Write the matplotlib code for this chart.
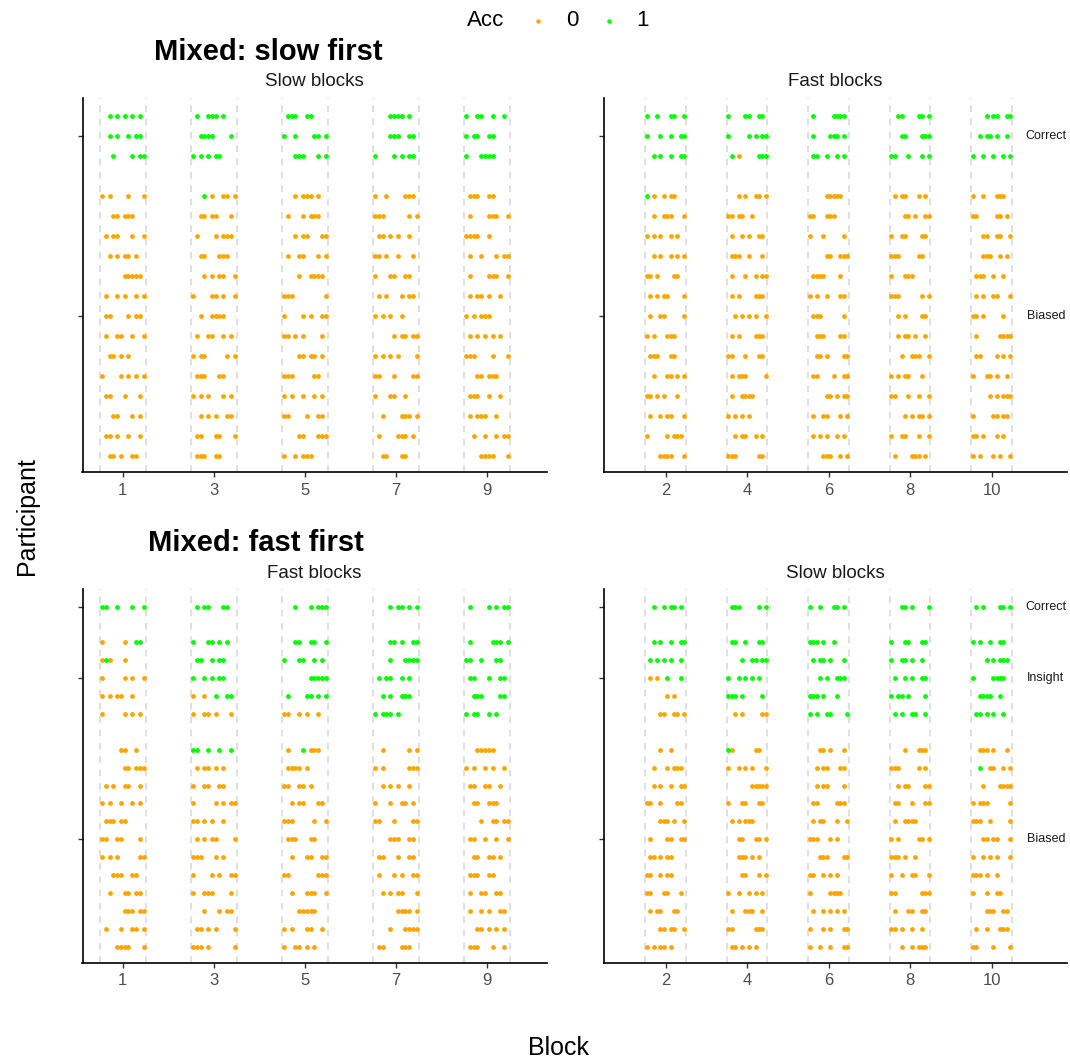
import matplotlib
matplotlib.use("Agg")
import matplotlib.pyplot as plt
from matplotlib.lines import Line2D

plt.rcParams['font.family'] = ['Liberation Sans', 'DejaVu Sans']

W, H, DPI = 1070, 1064, 100

# ---------------- data ----------------
acc_levels = ["0", "1"]
acc_colors = {"0": "#FFA500", "1": "#00FF00"}

blocks_odd = [1, 3, 5, 7, 9]
blocks_even = [2, 4, 6, 8, 10]
trials_per_block = 12

top_groups = ["Correct", "Biased"]
top_counts = [3, 14]
bottom_groups = ["Correct", "Insight", "Biased"]
bottom_counts = [1, 5, 12]

# each row: one 12-char string per block ('.' no trial shown, '0' Acc=0, '1' Acc=1)
slow_first_slow = [
    "..1.1.1.1.1. .1..111.1... .111..11.... ....1111.1.. 1..11..1..1.",
    "..1.1..1.11. ..1111....1. 1..1....11.1 ....111..11. 1.11..11....",
    "...1....1.11 1.1.1.11.... ...111...1.1 1....1.1.11. 1...1111....",
    "0.0....0...0 ...1.0..00.0 ...0.000.0.. 0..0....000. .000..00....",
    "...00.000... ..00.00...0. .0...0.000.. 000......0.0 .0....000..0",
    ".0.00...0..0 .0....0.000. ...0.00...00 .00.0.0..0.. 0000..0.....",
    "..0.0.00.0.. ..00...000.. .0..00...0.0 00.0..0...0. .0..0...0.00",
    "......00000. ...0.0.00..0 ....0..0000. 0...00..00.. .0....000..0",
    ".0..0.0..0.0 0....00.0..0 000........0 .0.0...0.00. .0.00.0..0..",
    ".00....0.00. ..0..0000... 0....0.0..00 0.0.0..0.... 0.0.000.....",
    ".0..00..0..0 .0..00..0.0. 00.0.0....0. .....0.00.00 .0.0.0.0.0..",
    "..00.0.0.... 0.00.....0.0 ....00.00.0. 0.0.0.0....0 000....0...0",
    "0....0.0.0.0 .000...00... 000.....00.. 00...0....00 ...00.000...",
    ".00...0...0. 0.0.0...0.0. 0.0..0..0.0. 0...00..0... .000..0..0..",
    "...00...0.0. ..0.0.0..00. 00....0..00. ..0....000.0 .0.000..0...",
    ".00.0..0..0. .00...00...0 ....00...000 .0....000.0. ..0..0..0.00",
    "..00.0..00.. .000..00.... 0..0.000.... ..00...00... ....0000...0",
]

slow_first_fast = [
    "1..1...11..1 1....11..11. .1.....1111. ..11....11.1 ....1.11..11",
    "1...1..1..11 1.....1.1.11 .1....111.1. ...11....111 ..1.11.1..1.",
    "..1.1..1..11 .1.0.....111 .11..1..1.1. 11...1...1.1 1..1..1..1.1",
    "1.0..0.00... ...0.0..00.0 .....00000.. .0.00...0.0. 0..0...000..",
    "..0..000...0 00.00..0.... 00...000.... ....00.0..00 00.....00.0.",
    "0.0.0..0.0.. .0..0.0..00. 0...0.....0. 0..00....00. ...00..00..0",
    "..0.0..0.0.0 .000..0...0. .....00..000 000.....00.. ...000..0.0.",
    "00.0....00.. .0...0..0.00 .0000....0.. 0...000..... .000..0..0..",
    ".0.0.00....0 .0.0....000. 0.0..0...00. 000......0.0 .0.0..00...0",
    ".0..00.....0 ..0.0.0.0..0 .000......0. ..0.0....00. 00.0.....0..",
    "0.0...000... .0.0....000. ..000....00. ..0.00.0..0. .0......0000",
    ".000...00... 00...0...00. ..00.0....00 ...0..000..0 .00....0.0.0",
    "..0...00.0.0 .0.000.....0 .00....0..00 0.0.00...0.. 0...00.0..0.",
    "00.0.0...0.. .0..0000.... .....00.0.00 00...0..0..0 .....0.0.000",
    ".0..0.00...0 0.0.0.0..... .0..00...0.0 ....0.0.00.0 0.....00.00.",
    "0.....0.000. ..0.00..0.0. .0.0.0..0.0. 0..00...0..0 00.0...0.0..",
    "....0000...0 000......00. ....000..0.0 .0....000.0. 0.0...0.0..0",
]

fast_first_fast = [
    "11..1...1..1 .1.11...11.. ...1...1.111 ....1.11.1.1 .1....1.1.11",
    "0.....0..11. 1...11.1.1.. ...11..11..1 ....11.1..11 .1.....111.1",
    "010...0..... .11..1.11... 1...11..1.1. ....1...1111 11..1...11..",
    "0.....0.0..0 1..1.1.11... .......11111 .1.11..1.1.. .11...1..11.",
    "0.0.00..0... 0..0..1..11. .1....11.1.1 ..1.1..111.. ..111....11.",
    "0.....0.0.0. 0..00.0...0. 00..0.0..0.. 1.111.1..... 1.11..1.1...",
    ".....00..0.. 11..1..1..1. .0...1.000.. ..0......0.0 ...00000....",
    "......00.000 .0.00.0.0... .0000.0..... 0.0......000 0.0..0.0..0.",
    ".0.0..00..0. 0..00..00... 00..00.0.... ..0.0.0..0.. .00..00..0..",
    "0.0..0..0.0. 0.....0.0.00 ..0.00...00. 0...0..00.0. ..00..000...",
    ".000.00..... 00.0.0..0... 000.....0..0 00...0....00 ....0..00.00",
    "00..00....0. .0.0.00....0 .000...00... ....000..00. .00..0..0..0",
    "0.0.0.....00 000...0.0... ..0...00..00 .00...0..00. ..00..00.0..",
    "...000..00.. 0....0.0..00 00.......000 .0...0.0..00 .000..00....",
    "..0...00.00. 0..000....0. ..0...000..0 ..0.0.00...0 .0..00..00..",
    "......000.00 ...0...0.00. ....00000... ......0000.0 .0..0.0..00.",
    ".0...0..00.0 .00.0.0....0 0.0...00..0. ....0...0000 ...00.0.0.0.",
    "....0000...0 000.0......0 0..00.0.0... .00....000.. .000...0..0.",
]

fast_first_slow = [
    "..1..1.11.1. .111.....1.1 1..1...11.1. ...11.1....1 .1.1....11.1",
    "..1.1..1..11 .11..1...11. 111.1..1.... 1...11...11. 1.1..1..11..",
    ".1.1.1.1..1. ....1..11.11 .1.11.1...1. 1..11.1..1.. ....1.1.111.",
    ".0.0..1...1. 1..1.1.1.1.. ...1.1..111. .1..1.1..11. 1.....1111..",
    "......0.0... 111.1.....1. 111.1...1... 1.11.1....1. ..1111..1...",
    "....00..00.0 ..0.0.....00 1.1..11....1 .1.1..11..1. .11.1.1..1..",
    "....0..0.... 10......00.. ...00.0...0. ....0...000. ..000.0...0.",
    "..0...0.000. 0..0.0.0...0 ..0.00...00. 000.....0.0. ..1..00..0.0",
    "..0.0..0..00 .......00000 ..0.00....0. ..0.00....00 ...0....0000",
    "00..0....00. 0...00...00. .00.....000. .00...0...00 0.000......0",
    "....000.0..0 .0.0.000.... .0.00...0..0 .0..0000.... 000..0.....0",
    ".0....00..00 ...00...00.0 000...0.0... 0.0.....00.0 ...00.00...0",
    ".00.0.00.... ...000.0.0.. ...000....00 000.0..0.... 0..0.0.0...0",
    "00..0.00.... ....00...0.0 00..0.0.0... 0..0..00...0 000.0..0....",
    "00...00...0. 0..0..0.0.0. 0.....0000.. 00.......000 0...0..00...",
    ".0.00...00.. .0...000..0. .0..0.0.0.0. .0...00..00. ....000..00.",
    "....00.00..0 00......000. 0...0.0...00 00.0..0..0.. .0..0...000.",
    "0.0.00.0.... .00.0.0.0... 0..0..0...00 ...0..0.000. 00....0....0",
]

panel_titles = ["Mixed: slow first", "Mixed: fast first"]
strip_labels = [["Slow blocks", "Fast blocks"], ["Fast blocks", "Slow blocks"]]


# ---------------- helpers ----------------
def row_slots(counts):
    slots, ticks = [], []
    s = 0
    for c in counts:
        rows = list(range(s, s + c))
        slots.extend(rows)
        ticks.append(rows[(c + 1) // 2 - 1])
        s += c + 1
    return slots, ticks


fig = plt.figure(figsize=(W / DPI, H / DPI), dpi=DPI)


def px_axes(x0, x1, y0, y1):
    return fig.add_axes([x0 / W, 1 - y1 / H, (x1 - x0) / W, (y1 - y0) / H])


def draw_panel(ax, rows, blocks, counts, groups, xlim, ylim, labels):
    slots, tick_slots = row_slots(counts)
    for b in blocks:
        for edge in (b - 0.5, b + 0.5):
            ax.axvline(edge, color="#D9D9D9", lw=1.2, ls=(0, (4, 4)), zorder=1)
    xs = {lv: [] for lv in acc_levels}
    ys = {lv: [] for lv in acc_levels}
    for slot, row in zip(slots, rows):
        for b, part in zip(blocks, row.split()):
            for k, ch in enumerate(part):
                if ch in acc_colors:
                    xs[ch].append(b - 0.5 + (k + 0.5) / trials_per_block)
                    ys[ch].append(slot)
    for lv in acc_levels:
        ax.scatter(xs[lv], ys[lv], s=12, c=acc_colors[lv], linewidths=0, zorder=3)
    ax.set_xlim(*xlim)
    ax.set_ylim(*ylim)
    ax.set_xticks(blocks)
    ax.set_xticklabels([str(b) for b in blocks])
    ax.set_yticks(tick_slots)
    ax.set_yticklabels([])
    if labels:
        for g, t in zip(groups, tick_slots):
            ax.text(11.33, t, g, ha="center", va="center", fontsize=9,
                    color="#1A1A1A", clip_on=False)
    for sp in ("top", "right"):
        ax.spines[sp].set_visible(False)
    for sp in ("left", "bottom"):
        ax.spines[sp].set_linewidth(1.2)
        ax.spines[sp].set_color("black")
    ax.tick_params(axis="both", length=3.5, width=1.0, color="#333333",
                   labelsize=12, labelcolor="#4D4D4D")
    ax.tick_params(axis="x", pad=4)
    ax.set_facecolor("white")


xl_left = (0.115, 10.31)
xl_right = (0.498, 11.85)
yl_top = (17.83, -0.87)
yl_bot = (19.9, -0.97)

ax_tl = px_axes(82.5, 546.5, 98.3, 472.3)
ax_tr = px_axes(604.3, 1067, 98.3, 472.3)
ax_bl = px_axes(82.5, 546.5, 589.3, 962.7)
ax_br = px_axes(604.3, 1067, 589.3, 962.7)

draw_panel(ax_tl, slow_first_slow, blocks_odd, top_counts, top_groups, xl_left, yl_top, False)
draw_panel(ax_tr, slow_first_fast, blocks_even, top_counts, top_groups, xl_right, yl_top, True)
draw_panel(ax_bl, fast_first_fast, blocks_odd, bottom_counts, bottom_groups, xl_left, yl_bot, False)
draw_panel(ax_br, fast_first_slow, blocks_even, bottom_counts, bottom_groups, xl_right, yl_bot, True)


def ftext(px, py, s, **kw):
    fig.text(px / W, 1 - py / H, s, **kw)


# titles
ftext(154, 60, panel_titles[0], fontsize=21, fontweight="bold", ha="left", va="baseline")
ftext(148, 551, panel_titles[1], fontsize=21, fontweight="bold", ha="left", va="baseline")

# strips
for (cx, cy), lab in zip([(314.5, 81), (835.6, 81), (314.5, 573), (835.6, 573)],
                         [strip_labels[0][0], strip_labels[0][1],
                          strip_labels[1][0], strip_labels[1][1]]):
    ftext(cx, cy, lab, fontsize=13.5, ha="center", va="center", color="#1A1A1A")

# axis titles
ftext(558, 1048, "Block", fontsize=18, ha="center", va="center")
ftext(27, 516, "Participant", fontsize=18, ha="center", va="center", rotation=90)

# legend
ftext(486, 21, "Acc", fontsize=16, ha="center", va="center")
for (mx, tx), lv in zip([(538, 572), (609, 643)], acc_levels):
    fig.add_artist(Line2D([mx / W], [1 - 21 / H], marker="o", markersize=3.2,
                          markerfacecolor=acc_colors[lv], markeredgewidth=0,
                          linestyle="none", transform=fig.transFigure))
    ftext(tx, 21, lv, fontsize=16, ha="center", va="center")

fig.savefig("out.png", dpi=DPI, facecolor="white")
